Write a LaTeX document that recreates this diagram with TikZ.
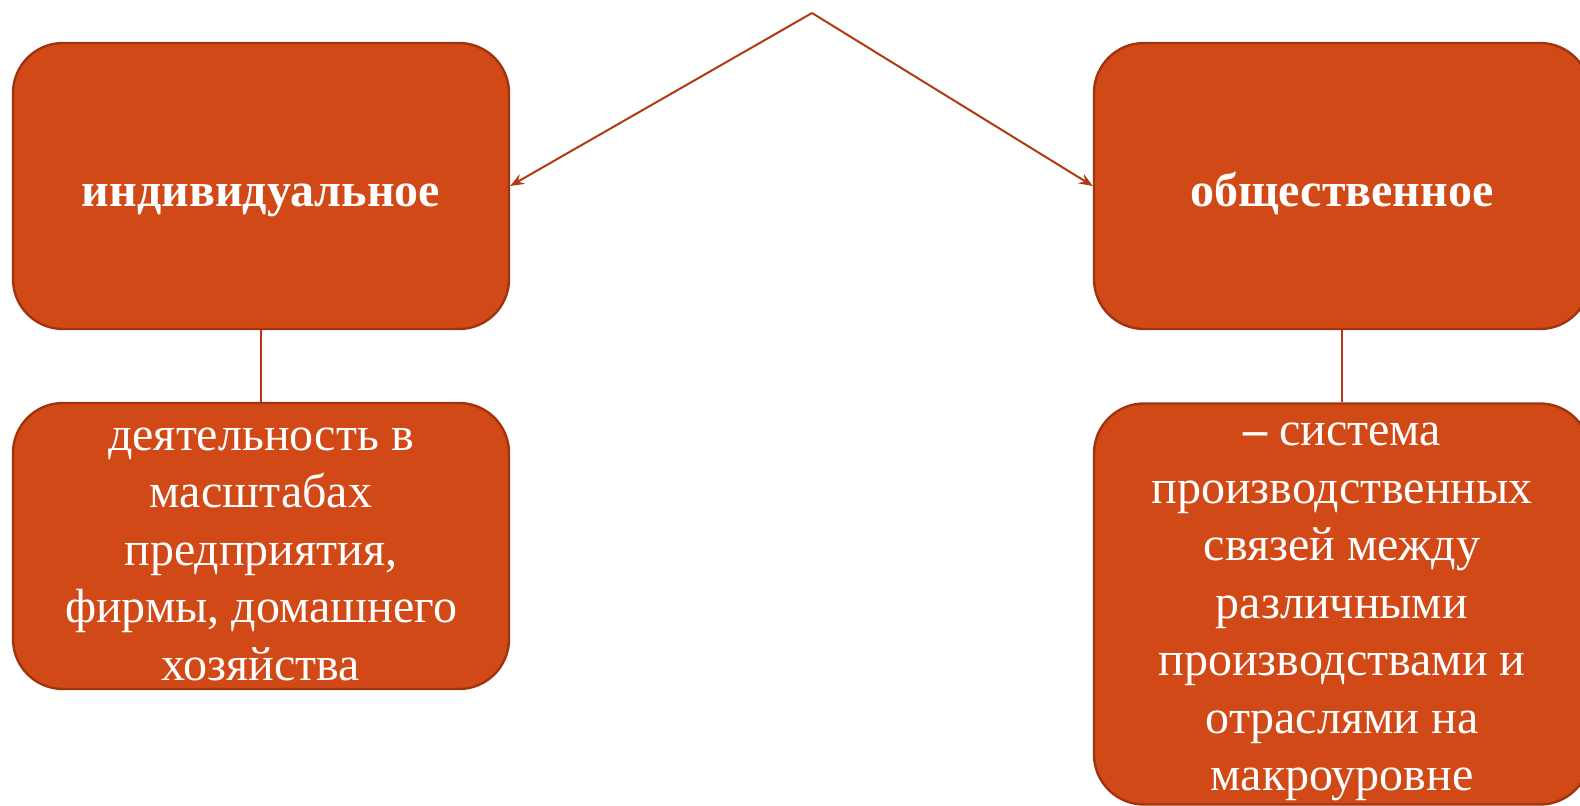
\documentclass[tikz,border=0pt]{standalone}
\usepackage{fontspec}
\setmainfont{Liberation Serif}
\usetikzlibrary{arrows.meta}
\definecolor{orangeboite}{RGB}{209,73,23}
\definecolor{bordboite}{RGB}{160,52,14}
\definecolor{trait}{RGB}{178,58,18}
\begin{document}
\begin{tikzpicture}[x=1pt,y=-1pt]
		\tikzstyle{fleche}=[-{Stealth[length=14pt,width=11pt,inset=5pt]},line width=2pt,draw=trait]
		\tikzstyle{lien}=[line width=2pt,draw=trait]
		\tikzstyle{boite}=[rectangle,rounded corners=50pt,fill=orangeboite,draw=bordboite,line width=2.4pt,text=white,align=center,inner sep=0pt]
		\tikzstyle{titre}=[boite,minimum width=496pt,minimum height=286pt,text height=40pt,text depth=0pt,font=\fontsize{48}{54}\selectfont\bfseries]
		\tikzstyle{texte}=[boite,minimum width=496pt,font=\fontsize{48}{57.5}\selectfont]
		\def\ColonneA{261}
		\def\ColonneB{1342}
		\def\NiveauA{186}
		\def\DecalageTexte{8}
		\useasboundingbox (0,0) rectangle (1580,806);
		\coordinate (Sommet) at (812,13) ;
		\node[titre] (Ind) at ({\ColonneA},{\NiveauA}) {индивидуальное};
		\node[titre] (Obs) at ({\ColonneB},{\NiveauA}) {общественное};
		\node[boite,minimum width=496pt,minimum height=286pt] (IndTxt) at ({\ColonneA},546) {};
		\node[boite,minimum width=496pt,minimum height=401pt] (ObsTxt) at ({\ColonneB},604) {};
		\node[texte,draw=none,fill=none] (IndLignes) at ([yshift=-\DecalageTexte pt]IndTxt.center) {деятельность в\\масштабах\\предприятия,\\фирмы, домашнего\\хозяйства};
		\node[texte,draw=none,fill=none] (ObsLignes) at ([yshift=-\DecalageTexte pt]ObsTxt.center) {{\bfseries –} система\\производственных\\связей между\\различными\\производствами и\\отраслями на\\макроуровне};
		\draw[fleche] (Sommet)--(Ind.east);
		\draw[fleche] (Sommet)--(Obs.west);
		\draw[lien] (Ind.south)--(IndTxt.north);
		\draw[lien] (Obs.south)--(ObsTxt.north);
	\end{tikzpicture}
\end{document}
